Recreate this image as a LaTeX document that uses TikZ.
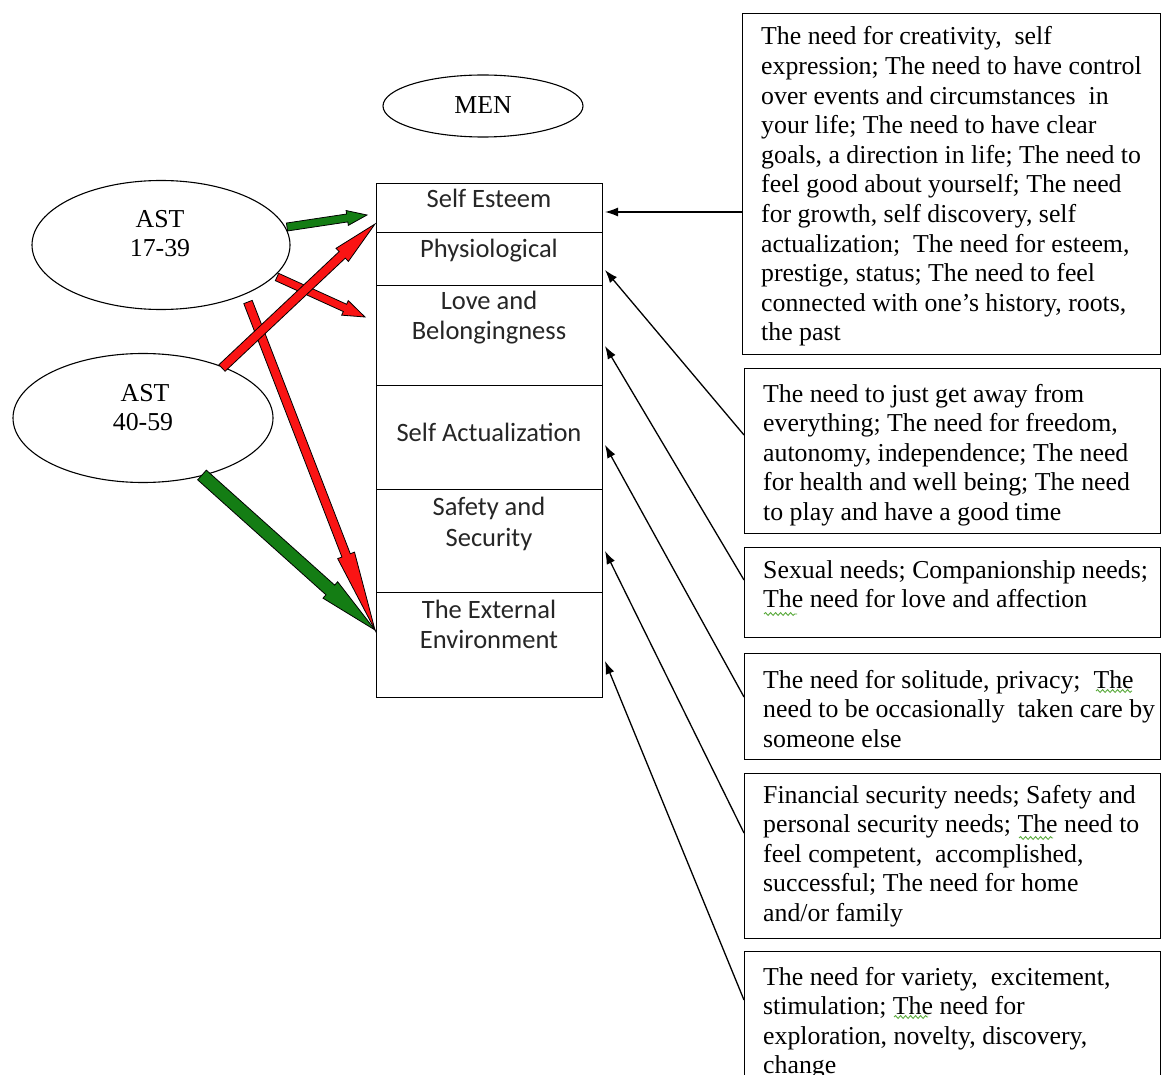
\documentclass[tikz,border=0pt]{standalone}
\usepackage{fontspec}
\setmainfont{Liberation Serif}
\newfontfamily\calibfont{Carlito}
\usetikzlibrary{shapes.geometric,arrows.meta,calc,decorations.pathmorphing}
\definecolor{arrgreen}{RGB}{20,125,20}
\definecolor{arrred}{RGB}{250,20,20}
\definecolor{squig}{RGB}{90,170,60}
\tikzset{
  needbox/.style={draw, line width=1.4pt, rectangle, anchor=north west, inner sep=0pt},
  rowbox/.style={draw, line width=1.3pt, rectangle, anchor=north west, minimum width=226, inner sep=0pt},
  oval/.style={draw, ellipse, line width=1.1pt, inner sep=0pt},
  rowtext/.style={font=\calibfont\fontsize{26.5}{30}\selectfont, anchor=base, inner sep=0pt, text=black!85},
  ovaltext/.style={font=\fontsize{25.8}{29}\selectfont, anchor=base, inner sep=0pt},
  needtext/.style={anchor=base west, inner sep=0pt},
  link/.style={line width=1.3pt, -{Latex[length=13pt,width=9pt]}},
  spellmark/.style={draw=squig, line width=0.9pt, decorate, decoration={snake, amplitude=1.4pt, segment length=5pt}},
}
\newcommand{\needpar}[1]{\begin{minipage}[t]{405pt}\fontsize{25.8}{29.6}\selectfont\raggedright #1\end{minipage}}
\newcommand{\blockarrow}[6]{%
  \filldraw[fill=#3, draw=black, line width=0.8pt, line join=miter]
    let \p1=(#1), \p2=(#2),
        \n1={atan2(\y2-\y1,\x2-\x1)},
        \n2={veclen(\x2-\x1,\y2-\y1)}
    in [shift={(\p1)}, rotate=\n1]
    (0,-#4) -- ({\n2-#6},-#4) -- ({\n2-#6},-#5) -- (\n2,0) -- ({\n2-#6},#5) -- ({\n2-#6},#4) -- (0,#4) -- cycle;}
\begin{document}
\begin{tikzpicture}[x=1pt, y=-1pt]
\useasboundingbox (0,0) rectangle (1162,1075);
\fill[white] (0,0) rectangle (1162,1075);

% ellipses
\node[oval, minimum width=200, minimum height=62] (men) at (483,106) {};
\node[ovaltext] (mentxt) at (483,114) {MEN};
\node[oval, minimum width=258, minimum height=129] (ast1) at (161,245) {};
\node[ovaltext] (ast1a) at (160,228) {AST};
\node[ovaltext] (ast1b) at (160,257) {17-39};
\node[oval, minimum width=260, minimum height=129] (ast2) at (143,418) {};
\node[ovaltext] (ast2a) at (145,401) {AST};
\node[ovaltext] (ast2b) at (143,430) {40-59};

% left column
\node[rowbox, minimum height=49] (se) at (376,183) {};
\node[rowbox, minimum height=53] (ph) at (376,232) {};
\node[rowbox, minimum height=100] (lb) at (376,285) {};
\node[rowbox, minimum height=104] (sa) at (376,385) {};
\node[rowbox, minimum height=103] (ss) at (376,489) {};
\node[rowbox, minimum height=105] (ee) at (376,592) {};
\node[rowtext] (setxt) at (489,208) {Self Esteem};
\node[rowtext] (phtxt) at (489,258) {Physiological};
\node[rowtext] (lbtxta) at (489,310) {Love and};
\node[rowtext] (lbtxtb) at (489,340) {Belongingness};
\node[rowtext] (satxt) at (489,441) {Self Actualization};
\node[rowtext] (sstxta) at (489,515) {Safety and};
\node[rowtext] (sstxtb) at (489,546) {Security};
\node[rowtext] (eetxta) at (489,618) {The External};
\node[rowtext] (eetxtb) at (489,648) {Environment};

% right boxes
\node[needbox, minimum width=418, minimum height=341] (b1) at (742,13) {};
\node[needbox, minimum width=416, minimum height=165] (b2) at (744,368) {};
\node[needbox, minimum width=416, minimum height=90] (b3) at (744,547) {};
\node[needbox, minimum width=416, minimum height=106] (b4) at (744,653) {};
\node[needbox, minimum width=416, minimum height=165] (b5) at (744,773) {};
\node[needbox, minimum width=416, minimum height=170] (b6) at (744,951) {};

\node[needtext] (tb1) at (761,45) {\needpar{The need for creativity,\ \ self\\
expression; The need to have control\\
over events and circumstances\ \ in\\
your life; The need to have clear\\
goals, a direction in life; The need to\\
feel good about yourself; The need\\
for growth, self discovery, self\\
actualization;\ \ The need for esteem,\\
prestige, status; The need to feel\\
connected with one’s history, roots,\\
the past}};
\node[needtext] (tb2) at (763,402) {\needpar{The need to just get away from\\
everything; The need for freedom,\\
autonomy, independence; The need\\
for health and well being; The need\\
to play and have a good time}};
\node[needtext] (tb3) at (763,578) {\needpar{Sexual needs; Companionship needs;\\
The need for love and affection}};
\node[needtext] (tb4) at (763,688) {\needpar{The need for solitude, privacy;\ \ The\\
need to be occasionally\ \ taken care by\\
someone else}};
\node[needtext] (tb5) at (763,803) {\needpar{Financial security needs; Safety and\\
personal security needs; The need to\\
feel competent,\ \ accomplished,\\
successful; The need for home\\
and/or family}};
\node[needtext] (tb6) at (763,985) {\needpar{The need for variety,\ \ excitement,\\
stimulation; The need for\\
exploration, novelty, discovery,\\
change}};

% spell-check marks
\draw[spellmark] (764,614) -- (797,614);
\draw[spellmark] (1096,691) -- (1132,691);
\draw[spellmark] (1019,838) -- (1053,838);
\draw[spellmark] (894,1017) -- (928,1017);

% thin connectors
\coordinate (s1) at (742,212);  \coordinate (t1) at (605,212);
\coordinate (s2) at (744,435);  \coordinate (t2) at (605,270);
\coordinate (s3) at (744,580);  \coordinate (t3) at (605,346);
\coordinate (s4) at (744,697);  \coordinate (t4) at (605,445);
\coordinate (s5) at (744,833);  \coordinate (t5) at (605,551);
\coordinate (s6) at (744,1000); \coordinate (t6) at (605,661);
\draw[link] (s1) -- (t1);
\draw[link] (s2) -- (t2);
\draw[link] (s3) -- (t3);
\draw[link] (s4) -- (t4);
\draw[link] (s5) -- (t5);
\draw[link] (s6) -- (t6);

% block arrows
\coordinate (g1s) at (287,227); \coordinate (g1e) at (367,215);
\coordinate (r1s) at (277,277); \coordinate (r1e) at (365,317);
\coordinate (r2s) at (222,368); \coordinate (r2e) at (375,224);
\coordinate (r3s) at (248,302); \coordinate (r3e) at (375,630);
\coordinate (g2s) at (202,475); \coordinate (g2e) at (375,630);
\blockarrow{g1s}{g1e}{arrgreen}{4}{7.5}{20}
\blockarrow{r1s}{r1e}{arrred}{4}{8}{22}
\blockarrow{g2s}{g2e}{arrgreen}{6.5}{11}{60}
\blockarrow{r3s}{r3e}{arrred}{4.5}{9}{80}
\blockarrow{r2s}{r2e}{arrred}{4.5}{9}{45}
\end{tikzpicture}
\end{document}
